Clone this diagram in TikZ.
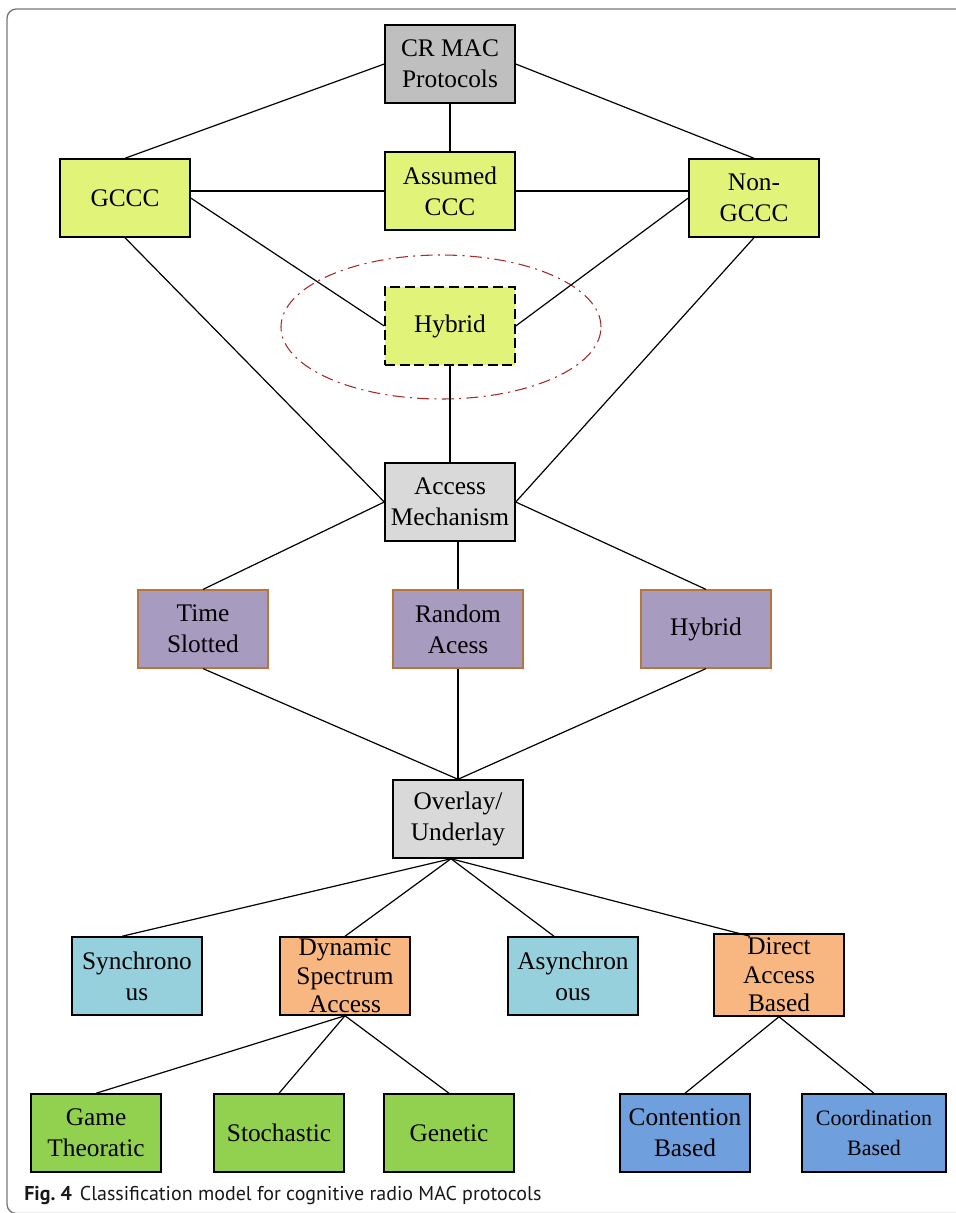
\documentclass[tikz,border=0pt]{standalone}
\usepackage{fontspec}
\setmainfont{Liberation Serif}
\newfontfamily\capfont{PT Sans}
\usetikzlibrary{calc}
\definecolor{crgray}{RGB}{191,191,191}
\definecolor{ygreen}{RGB}{226,243,122}
\definecolor{lgray}{RGB}{217,217,217}
\definecolor{purp}{RGB}{168,155,192}
\definecolor{purpb}{RGB}{184,118,58}
\definecolor{lblue}{RGB}{150,208,220}
\definecolor{orng}{RGB}{248,182,128}
\definecolor{grn}{RGB}{146,208,80}
\definecolor{blu}{RGB}{111,159,220}
\definecolor{elred}{RGB}{165,42,42}
\definecolor{frame}{RGB}{120,120,120}
\begin{document}
\begin{tikzpicture}[x=0.75pt,y=-0.75pt,
  box/.style={draw=black, line width=1.1pt, minimum width=97.5pt, minimum height=58.5pt,
    inner sep=0pt, align=center, font=\fontsize{19}{23.5}\selectfont},
  ybox/.style={box, fill=ygreen},
  gbox/.style={box, fill=lgray},
  pbox/.style={box, fill=purp, draw=purpb, line width=0.9pt},
  lbbox/.style={box, fill=lblue},
  obox/.style={box, fill=orng},
  grbox/.style={box, fill=grn},
  bbox/.style={box, fill=blu},
  link/.style={draw=black, line width=0.9pt},
]
\useasboundingbox (0,0) rectangle (956,1213);
\fill[white] (0,0) rectangle (956,1213);
\draw[frame, line width=1pt, rounded corners=7pt] (7,9) rectangle (985,1213.5);

% nodes
\node[box, fill=crgray] (cr) at (450,64) {CR MAC\\Protocols};
\node[ybox] (gccc) at (125,198) {GCCC};
\node[ybox] (accc) at (450,191) {Assumed\\CCC};
\node[ybox] (ngccc) at (754,198) {Non-\\GCCC};
\node[ybox, dash pattern=on 7.5pt off 3.5pt] (hyb) at (450,326) {Hybrid};
\node[gbox] (am) at (450,502) {Access\\Mechanism};
\node[pbox] (ts) at (203,629) {Time\\Slotted};
\node[pbox] (ra) at (458,629) {Random\\Acess};
\node[pbox] (hy2) at (706,629) {Hybrid};
\node[gbox] (ov) at (458,819) {Overlay/\\Underlay};
\node[lbbox] (sync) at (137,976) {Synchrono\\us};
\node[obox, font=\fontsize{19}{21.5}\selectfont] (dsa) at (345,976) {Dynamic\\Spectrum\\Access};
\node[lbbox] (async) at (573,976) {Asynchron\\ous};
\node[obox, minimum height=61.5pt, font=\fontsize{19}{21.5}\selectfont] (dab) at (779,975) {Direct\\Access\\Based};
\node[grbox] (game) at (96,1133) {Game\\Theoratic};
\node[grbox] (stoch) at (279,1133) {Stochastic};
\node[grbox] (gen) at (449,1133) {Genetic};
\node[bbox] (cont) at (685,1133) {Contention\\Based};
\node[bbox, minimum width=108pt, font=\fontsize{16.5}{22.5}\selectfont] (coord) at (874,1133) {Coordination\\Based};

% ellipse
\draw[elred, line width=0.8pt, dash pattern=on 9pt off 4pt on 1.5pt off 4pt]
  (441,327) ellipse [x radius=120pt, y radius=54pt];

% connectors
\draw[link] (cr.west) -- (gccc.north);
\draw[link] (cr.east) -- (ngccc.north);
\draw[link] (cr.south) -- (accc.north);
\draw[link] (accc.west) -- (accc.west -| gccc.east);
\draw[link] (accc.east) -- (accc.east -| ngccc.west);
\draw[link] (gccc.east) -- (hyb.west);
\draw[link] (ngccc.west) -- (hyb.east);
\draw[link] (gccc.south) -- (am.west);
\draw[link] (ngccc.south) -- (am.east);
\draw[link] (hyb.south) -- (am.north);
\draw[link] (am.west) -- (ts.north);
\draw[link] (am.east) -- (hy2.north);
\draw[link] (ra.north) -- (ra.north |- am.south);
\draw[link] (ts.south) -- (ov.north);
\draw[link] (ra.south) -- (ov.north);
\draw[link] (hy2.south) -- (ov.north);
\coordinate (ovb) at ($(ov.south)+(-7,0)$);
\draw[link] (ovb) -- ($(sync.north)+(-15,0)$);
\draw[link] (ovb) -- (dsa.north);
\draw[link] (ovb) -- ($(async.north)+(-19,0)$);
\draw[link] (ovb) -- ($(dab.north)+(-29,3)$);
\draw[link] (dsa.south) -- (game.north);
\draw[link] (dsa.south) -- (stoch.north);
\draw[link] (dsa.south) -- (gen.north);
\draw[link] (dab.south) -- (cont.north);
\draw[link] (dab.south) -- (coord.north);

% caption
\node[anchor=base west, inner sep=0pt, text=black!90, font=\capfont\fontsize{15}{17}\selectfont] (cap) at (24,1200)
  {\textbf{Fig.~4}\hspace{6pt}Classification model for cognitive radio MAC protocols};
\end{tikzpicture}
\end{document}
